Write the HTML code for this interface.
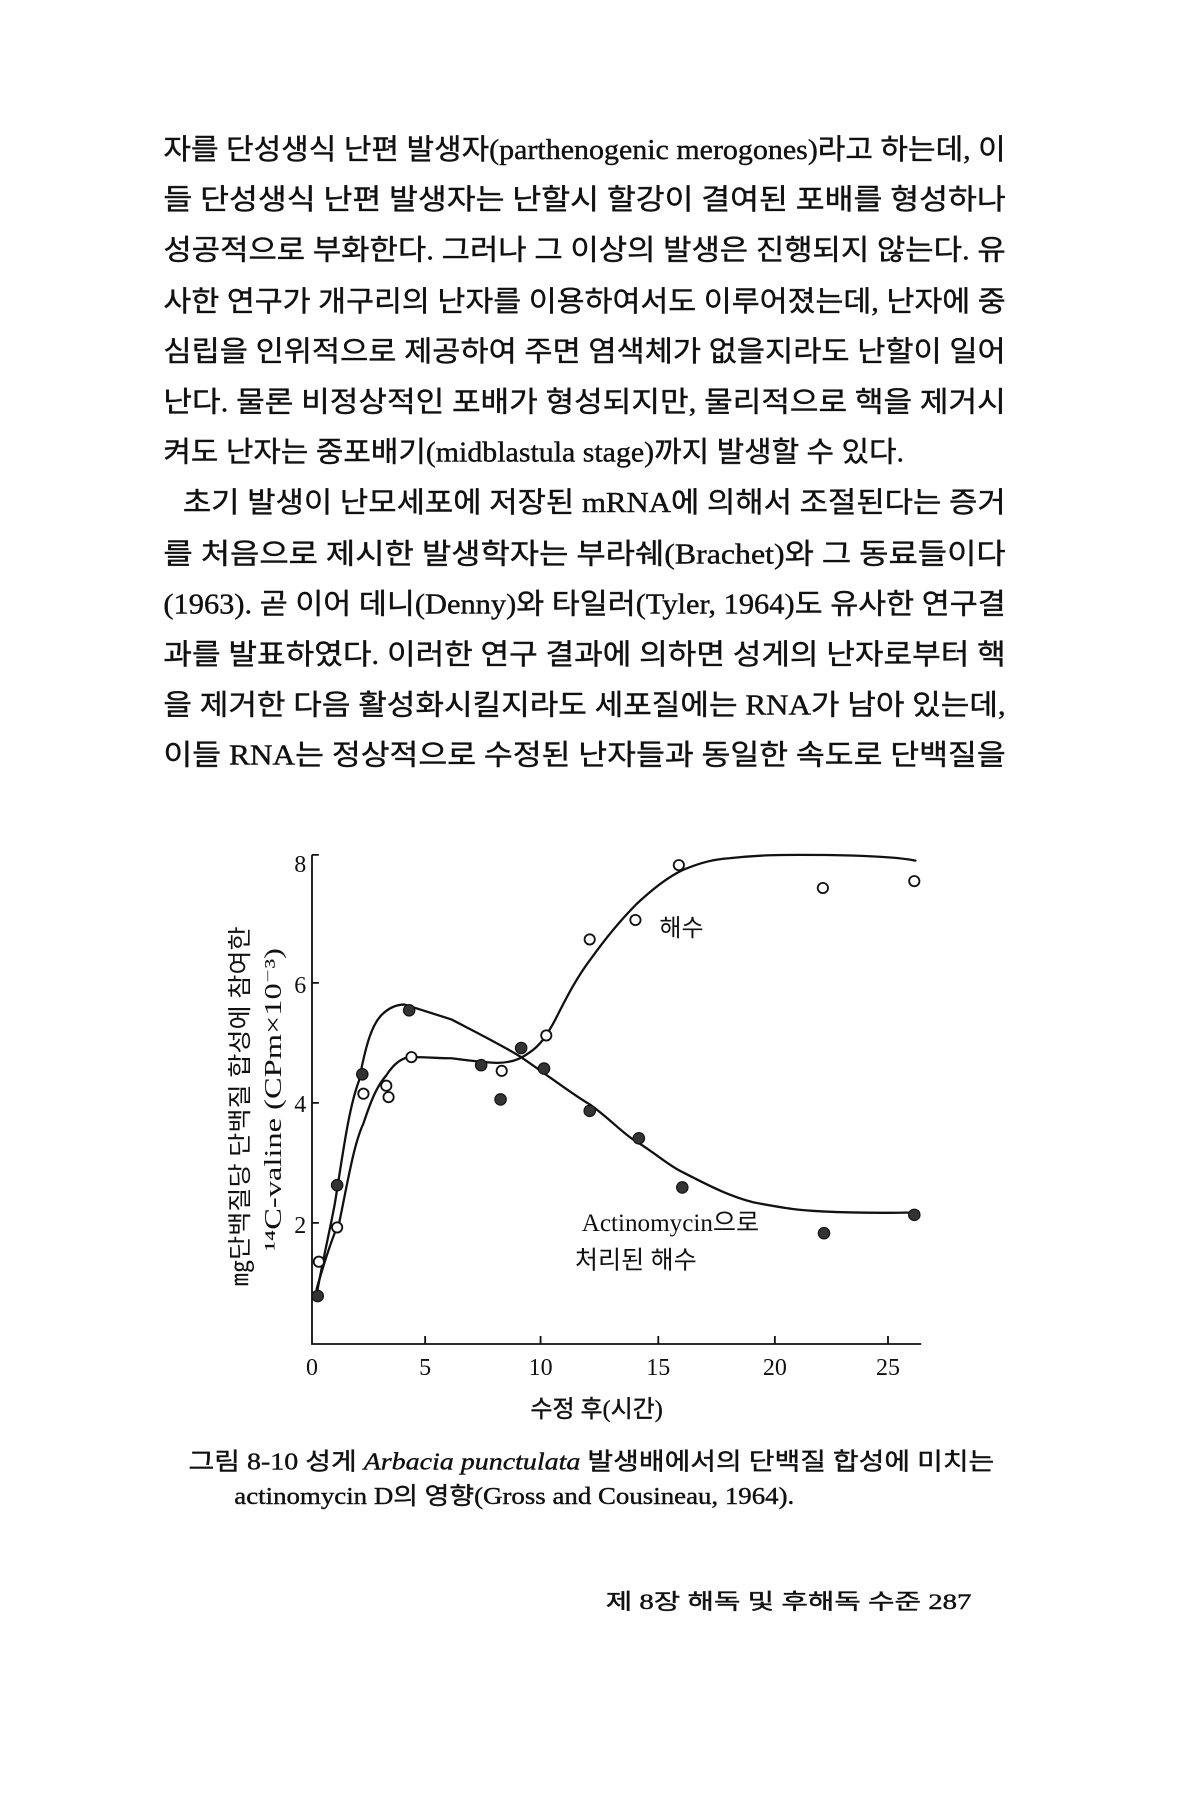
<!DOCTYPE html>
<html><head><meta charset="utf-8"><style>
html,body{margin:0;padding:0;background:#fff;}
svg{display:block;}
text{font-family:"Liberation Serif","Noto Sans CJK KR","NanumGothic",serif;fill:#111;}
.b{stroke:#111;stroke-width:0.35px;}
</style></head><body>
<svg width="1200" height="1800" viewBox="0 0 1050 1575" xmlns="http://www.w3.org/2000/svg">
<rect width="1050" height="1575" fill="#fff"/>
<g font-size="25" class="b">
<text x="143" y="139" textLength="737" lengthAdjust="spacingAndGlyphs">자를 단성생식 난편 발생자(parthenogenic merogones)라고 하는데, 이</text>
<text x="143" y="183" textLength="737" lengthAdjust="spacingAndGlyphs">들 단성생식 난편 발생자는 난할시 할강이 결여된 포배를 형성하나</text>
<text x="143" y="227" textLength="737" lengthAdjust="spacingAndGlyphs">성공적으로 부화한다. 그러나 그 이상의 발생은 진행되지 않는다. 유</text>
<text x="143" y="272" textLength="737" lengthAdjust="spacingAndGlyphs">사한 연구가 개구리의 난자를 이용하여서도 이루어졌는데, 난자에 중</text>
<text x="143" y="316" textLength="737" lengthAdjust="spacingAndGlyphs">심립을 인위적으로 제공하여 주면 염색체가 없을지라도 난할이 일어</text>
<text x="143" y="360" textLength="737" lengthAdjust="spacingAndGlyphs">난다. 물론 비정상적인 포배가 형성되지만, 물리적으로 핵을 제거시</text>
<text x="143" y="404" textLength="648" lengthAdjust="spacingAndGlyphs">켜도 난자는 중포배기(midblastula stage)까지 발생할 수 있다.</text>
<text x="160" y="448" textLength="720" lengthAdjust="spacingAndGlyphs">초기 발생이 난모세포에 저장된 mRNA에 의해서 조절된다는 증거</text>
<text x="143" y="493" textLength="737" lengthAdjust="spacingAndGlyphs">를 처음으로 제시한 발생학자는 부라쉐(Brachet)와 그 동료들이다</text>
<text x="143" y="537" textLength="737" lengthAdjust="spacingAndGlyphs">(1963). 곧 이어 데니(Denny)와 타일러(Tyler, 1964)도 유사한 연구결</text>
<text x="143" y="581" textLength="737" lengthAdjust="spacingAndGlyphs">과를 발표하였다. 이러한 연구 결과에 의하면 성게의 난자로부터 핵</text>
<text x="143" y="625" textLength="737" lengthAdjust="spacingAndGlyphs">을 제거한 다음 활성화시킬지라도 세포질에는 RNA가 남아 있는데,</text>
<text x="143" y="669" textLength="737" lengthAdjust="spacingAndGlyphs">이들 RNA는 정상적으로 수정된 난자들과 동일한 속도로 단백질을</text>
</g>
<g stroke="#111" stroke-width="1.6" fill="none">
<path d="M273,748 V1176 H806"/>
<path d="M273,748 h6 M273,860 h6 M273,965 h6 M273,1070 h6"/>
<path d="M372,1176 v-7 M473,1176 v-7 M576,1176 v-7 M678,1176 v-7 M777,1176 v-7"/>
</g>
<g font-size="21" text-anchor="end">
<text x="268" y="763">8</text><text x="268" y="869">6</text><text x="268" y="973">4</text><text x="268" y="1079">2</text>
</g>
<g font-size="21" text-anchor="middle">
<text x="273" y="1203">0</text><text x="372" y="1203">5</text><text x="473" y="1203">10</text><text x="576" y="1203">15</text><text x="678" y="1203">20</text><text x="777" y="1203">25</text>
</g>
<text x="522" y="1240" font-size="21" text-anchor="middle" class="b">수정 후(시간)</text>
<text transform="translate(217,968) rotate(-90)" font-size="21" text-anchor="middle" textLength="315" lengthAdjust="spacingAndGlyphs">㎎단백질당 단백질 합성에 참여한</text>
<text transform="translate(246,962) rotate(-90)" font-size="21" text-anchor="middle" textLength="265" lengthAdjust="spacingAndGlyphs">¹⁴C-valine (CPm×10⁻³)</text>
<g stroke="#111" stroke-width="2" fill="none" stroke-linejoin="round" stroke-linecap="round">
<path d="M277,1133 C283,1100 290,1070 293,1053 C300,1010 305,970 314,946 C320,915 325,897 334,888 C342,880 350,879 354,879 L395,892 C420,905 440,915 456,925 C485,945 500,957 517,967 C535,980 545,992 557,999 C575,1010 585,1020 598,1026 C625,1040 640,1047 659,1052 C690,1058 700,1059 720,1060 C760,1062 790,1061 801,1061"/>
<path d="M277,1128 C285,1100 292,1080 297,1069 C305,1030 310,1000 318,983 C325,962 330,950 338,941 C345,930 352,925 360,925 C375,925 385,926 395,926 C410,928 425,930 435,930 C450,930 458,925 466,919 C475,912 480,903 486,892 C497,870 505,855 517,839 C532,818 545,803 557,791 C572,777 585,767 598,761 C615,754 625,752 638,751 C665,748 685,748 699,748 C740,748 780,749 801,753"/>
</g>
<g stroke="#111" stroke-width="1.6" fill="#fff">
<circle cx="279" cy="1104" r="4.5"/><circle cx="295" cy="1074" r="4.5"/><circle cx="318" cy="957" r="4.5"/><circle cx="338" cy="950" r="4.5"/><circle cx="340" cy="960" r="4.5"/><circle cx="360" cy="925" r="4.5"/><circle cx="439" cy="937" r="4.5"/><circle cx="478" cy="906" r="4.5"/><circle cx="516" cy="822" r="4.5"/><circle cx="556" cy="805" r="4.5"/><circle cx="594" cy="757" r="4.5"/><circle cx="720" cy="777" r="4.5"/><circle cx="800" cy="771" r="4.5"/>
</g>
<g fill="#333" stroke="#111" stroke-width="1">
<circle cx="278" cy="1134" r="5"/><circle cx="295" cy="1037" r="5"/><circle cx="317" cy="940" r="5"/><circle cx="358" cy="884" r="5"/><circle cx="421" cy="932" r="5"/><circle cx="438" cy="962" r="5"/><circle cx="456" cy="917" r="5"/><circle cx="476" cy="935" r="5"/><circle cx="516" cy="972" r="5"/><circle cx="559" cy="996" r="5"/><circle cx="597" cy="1039" r="5"/><circle cx="721" cy="1079" r="5"/><circle cx="800" cy="1063" r="5"/>
</g>
<text x="577" y="819" font-size="21">해수</text>
<text x="509" y="1077" font-size="22">Actinomycin으로</text>
<text x="503" y="1110" font-size="22">처리된 해수</text>
<text x="165" y="1286" font-size="21" class="b" textLength="705" lengthAdjust="spacingAndGlyphs">그림 8-10  성게 <tspan font-style="italic">Arbacia punctulata</tspan>  발생배에서의 단백질 합성에 미치는</text>
<text x="205" y="1316" font-size="21" class="b" textLength="490" lengthAdjust="spacingAndGlyphs">actinomycin D의 영향(Gross and Cousineau, 1964).</text>
<text x="530" y="1408" font-size="19" class="b" textLength="320" lengthAdjust="spacingAndGlyphs">제 8장  해독 및 후해독 수준  287</text>
</svg>
</body></html>
